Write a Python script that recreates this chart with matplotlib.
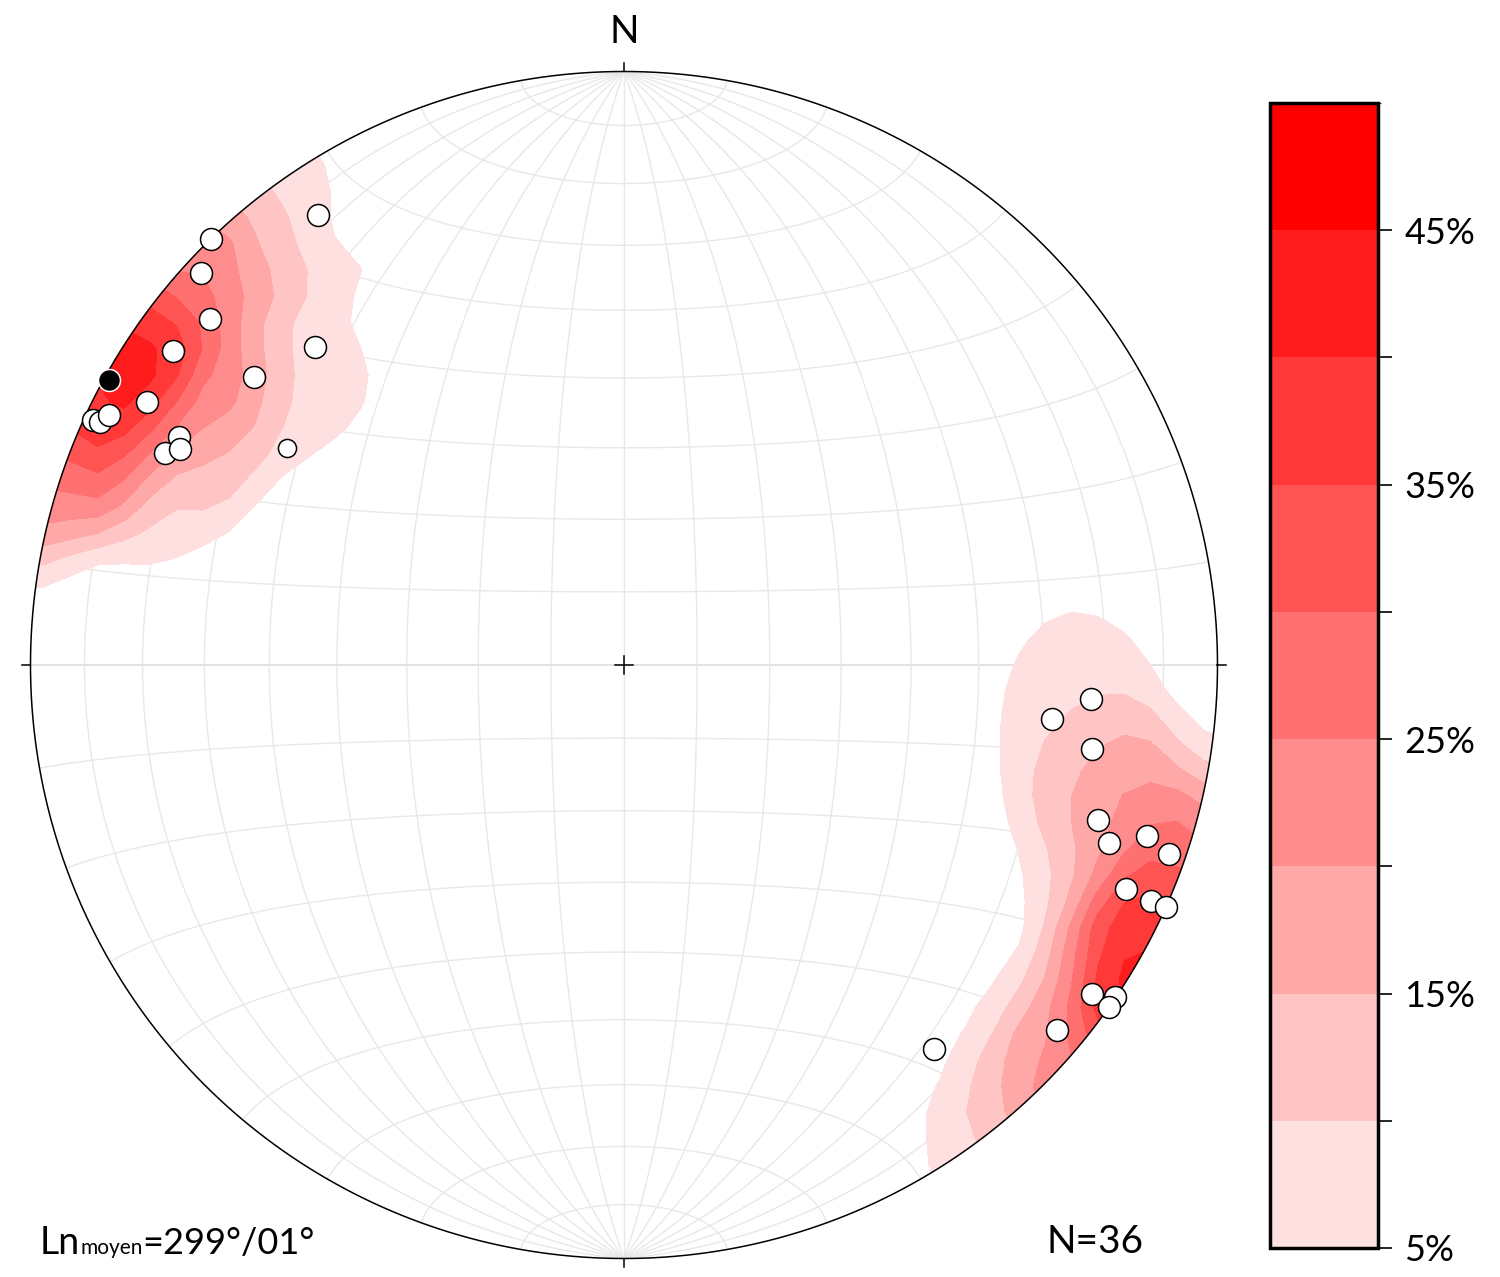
import numpy as np
import matplotlib
matplotlib.use("Agg")
import matplotlib.pyplot as plt
from matplotlib.colors import ListedColormap, BoundaryNorm
from matplotlib.patches import Circle
from matplotlib.offsetbox import TextArea, HPacker, AnnotationBbox

plt.rcParams["font.family"] = ["Lato", "DejaVu Sans"]

# lineations (trend, plunge) in degrees
trend = [325.8, 315.9, 312.8, 309.9, 304.9, 315.8, 307.9, 298.9, 294.8, 294.9,
         295.9, 297.1, 294.8, 295.9,
         94.2, 97.2, 100.2, 108.1, 110.2, 108.1, 109.1, 114.1, 114.1, 114.1,
         125.1, 124.1, 125.2, 130.1, 141.1]
plunge = [9.2, 0.0, 3.2, 10.0, 8.2, 26.2, 22.1, 9.1, 1.7, 3.0,
          4.0, 16.9, 15.9, 17.9,
          22.2, 28.1, 21.0, 17.1, 14.0, 8.1, 3.2, 8.2, 3.1, 0.0,
          4.1, 0.1, 0.0, 5.1, 18.0]
# one smaller symbol
small_trend = [302.8]
small_plunge = [32.9]
# mean lineation
mean_trend = 299
mean_plunge = 1
n_total = 36

levels = [5, 10, 15, 20, 25, 30, 35, 40, 45, 50]
tick_labels = ["5%", "", "15%", "", "25%", "", "35%", "", "45%"]
band_colors = ["#ffe0e0", "#ffc4c4", "#ffa8a8", "#ff8c8c", "#ff7070",
               "#ff5454", "#ff3838", "#ff1c1c", "#ff0000"]


def to_xyz(tr, pl):
    tr = np.radians(tr)
    pl = np.radians(pl)
    return np.cos(pl) * np.sin(tr), np.cos(pl) * np.cos(tr), np.sin(pl)


def project(tr, pl):
    # lower hemisphere equal area, primitive radius 1
    e, n, d = to_xyz(np.asarray(tr, float), np.asarray(pl, float))
    f = 1.0 / np.sqrt(1.0 + d)
    return e * f, n * f


def grid_line(lon, lat):
    lon = np.radians(lon)
    lat = np.radians(lat)
    x = np.cos(lat) * np.sin(lon)
    y = np.sin(lat)
    z = np.cos(lat) * np.cos(lon)
    f = 1.0 / np.sqrt(1.0 + z)
    return x * f, y * f


fig = plt.figure(figsize=(15, 12.77), dpi=100)
ax = fig.add_axes([0.020333, 0.014487, 0.79133, 0.92953])
ax.set_xlim(-1, 1)
ax.set_ylim(-1, 1)
ax.axis("off")

# net grid, 10 degree spacing
t = np.linspace(-90, 90, 361)
for v in range(-80, 90, 10):
    x, y = grid_line(np.full_like(t, v), t)
    ax.plot(x, y, color="#e8e8e8", lw=1.0, zorder=1)
    x, y = grid_line(t, np.full_like(t, v))
    ax.plot(x, y, color="#e2e2e2" if v == 0 else "#e8e8e8",
            lw=1.4 if v == 0 else 1.0, zorder=1)

# density: smoothed counting cone (axial), percent of points
cone = 14.0
soft = 1.5
gx, gy = np.meshgrid(np.linspace(-1.02, 1.02, 47), np.linspace(-1.02, 1.02, 47))
rr = np.hypot(gx, gy)
sc = np.where(rr > 1, 1.0 / np.maximum(rr, 1e-9), 1.0)
ux, uy = gx * sc, gy * sc
r2 = ux ** 2 + uy ** 2
down = 1 - r2
h = np.sqrt(np.clip(2 - r2, 0, None))
ge, gn = ux * h, uy * h
de, dn, dd = to_xyz(np.array(trend), np.array(plunge))
se, sn, sd = to_xyz(np.array(small_trend), np.array(small_plunge))
de = np.concatenate([de, se])
dn = np.concatenate([dn, sn])
dd = np.concatenate([dd, sd])
cosang = np.abs(ge[..., None] * de + gn[..., None] * dn + down[..., None] * dd)
ang = np.degrees(np.arccos(np.clip(cosang, -1, 1)))
w = 1.0 / (1.0 + np.exp((ang - cone) / soft))
dens = 100.0 * w.sum(axis=-1) / n_total
dens = np.minimum(dens, 49.99)

cmap = ListedColormap(band_colors)
norm = BoundaryNorm(levels, cmap.N)
cs = ax.contourf(gx, gy, dens, levels=levels, cmap=cmap, norm=norm, zorder=2)
clip = Circle((0, 0), 1, transform=ax.transData, fc="none", ec="none")
ax.add_patch(clip)
cs.set_clip_path(clip)

# primitive circle, ticks and centre cross
a = np.linspace(0, 2 * np.pi, 721)
ax.plot(np.cos(a), np.sin(a), color="black", lw=1.1, zorder=4, clip_on=False)
tk = 0.014
for dx, dy in [(0, 1), (1, 0), (0, -1), (-1, 0)]:
    ax.plot([dx, dx * (1 + tk)], [dy, dy * (1 + tk)], color="black", lw=1.1,
            zorder=4, clip_on=False)
c = 0.015
ax.plot([-c, c], [0, 0], color="black", lw=1.1, zorder=4)
ax.plot([0, 0], [-c, c], color="black", lw=1.1, zorder=4)

# data points
px, py = project(trend, plunge)
ax.scatter(px, py, s=250, facecolor="white", edgecolor="black", linewidth=1.1,
           zorder=5, clip_on=False)
sx, sy = project(small_trend, small_plunge)
ax.scatter(sx, sy, s=170, facecolor="white", edgecolor="black", linewidth=1.1,
           zorder=5)
mx, my = project([mean_trend], [mean_plunge])
ax.scatter(mx, my, s=250, facecolor="black", edgecolor="white", linewidth=1.1,
           zorder=6)

ax.text(0, 1.048, "N", ha="center", va="baseline", fontsize=28)

# texts at bottom
box = HPacker(children=[TextArea("Ln", textprops=dict(fontsize=27)),
                        TextArea("moyen", textprops=dict(fontsize=15)),
                        TextArea("=299°/01°", textprops=dict(fontsize=26))],
              align="baseline", pad=0, sep=0)
ab = AnnotationBbox(box, (40, 1277 - 1261), xycoords="figure pixels",
                    box_alignment=(0, 0), frameon=False, pad=0)
fig.add_artist(ab)
fig.text(1047 / 1500, (1277 - 1253) / 1277, f"N={n_total}", fontsize=28,
         ha="left", va="baseline")

# colour bar
cax = fig.add_axes([0.84667, 0.02271, 0.072, 0.8966])
cb = fig.colorbar(cs, cax=cax)
cb.set_ticks(levels[:-1])
cb.set_ticklabels(tick_labels)
cb.outline.set_linewidth(2.5)
cax.tick_params(length=10, width=1.2, pad=9, labelsize=26)

fig.savefig("out.png", dpi=100)
